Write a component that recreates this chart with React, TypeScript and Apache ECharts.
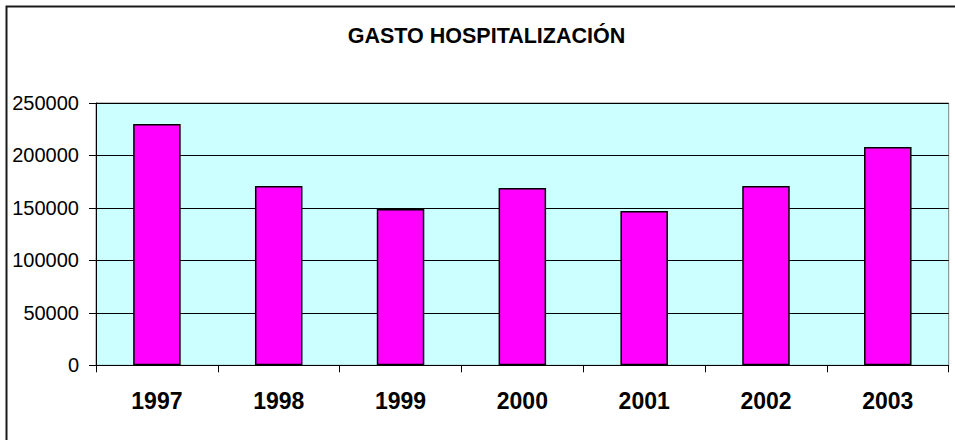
import React, { useEffect, useRef } from "react";
import * as echarts from "echarts";

const titleText = "GASTO HOSPITALIZACIÓN";
const years = ["1997", "1998", "1999", "2000", "2001", "2002", "2003"];
const gasto = [230000, 171000, 149000, 169000, 147000, 171000, 208000];
const yMin = 0;
const yMax = 250000;
const yInterval = 50000;

export default function App() {
  const ref = useRef<HTMLDivElement>(null);
  useEffect(() => {
    if (!ref.current) return;
    const chart = echarts.init(ref.current, undefined, { renderer: "svg" });
    chart.setOption({
      animation: false,
      backgroundColor: "#ffffff",
      graphic: [
        {
          type: "rect",
          shape: { x: 6.5, y: 6.5, width: 960, height: 450 },
          style: { fill: "none", stroke: "#1a1a1a", lineWidth: 2 },
          silent: true,
          z: 100,
        },
        {
          type: "text",
          x: 486.5,
          y: 36,
          style: {
            text: titleText,
            fill: "#000",
            font: "bold 21.5px 'Liberation Sans', Arial, sans-serif",
            textAlign: "center",
            textVerticalAlign: "middle",
          },
        },
      ],
      grid: {
        left: 96,
        top: 103,
        right: 6.3,
        bottom: 74.7,
        show: true,
        backgroundColor: "#CCFFFF",
        borderColor: "#808080",
        borderWidth: 1,
        containLabel: false,
      },
      xAxis: {
        type: "category",
        data: years,
        boundaryGap: true,
        axisLine: { show: true, lineStyle: { color: "#000", width: 1 } },
        axisTick: { show: true, length: 7, inside: false, lineStyle: { color: "#000" }, alignWithLabel: false },
        axisLabel: {
          color: "#000",
          fontFamily: "'Liberation Sans', Arial, sans-serif",
          fontWeight: "bold",
          fontSize: 23,
          margin: 24,
        },
        splitLine: { show: false },
      },
      yAxis: {
        type: "value",
        min: yMin,
        max: yMax,
        interval: yInterval,
        axisLine: { show: true, lineStyle: { color: "#000", width: 1 } },
        axisTick: { show: true, length: 7, lineStyle: { color: "#000" } },
        axisLabel: {
          color: "#000",
          fontFamily: "'Liberation Sans', Arial, sans-serif",
          fontSize: 20,
          margin: 17,
          formatter: (v: number) => String(v),
        },
        splitLine: { show: true, lineStyle: { color: "#000", width: 1 } },
      },
      series: [
        {
          type: "bar",
          data: gasto,
          barWidth: "39%",
          itemStyle: { color: "#FF00FF", borderColor: "#000", borderWidth: 1.5 },
        },
      ],
    });
    return () => chart.dispose();
  }, []);
  return (
    <div
      ref={ref}
      style={{ position: "fixed", left: 0, top: 0, width: 955, height: 440 }}
    />
  );
}
